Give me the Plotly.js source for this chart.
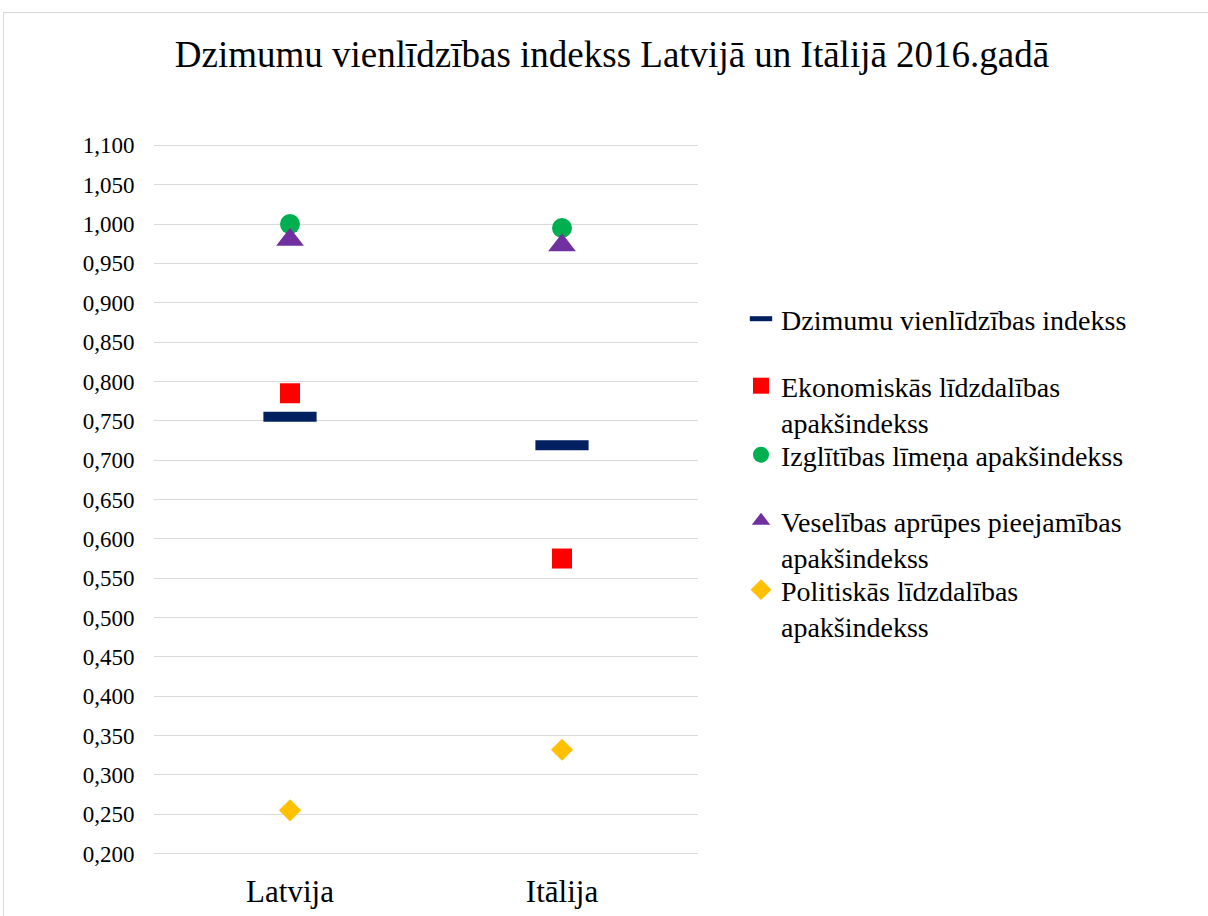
<!DOCTYPE html>
<html>
<head>
<meta charset="utf-8">
<script src="https://cdn.plot.ly/plotly-3.0.1.min.js"></script>
<style>
  html, body { margin: 0; padding: 0; background: #fff; overflow: hidden; width: 1208px; height: 916px; }
  #chart { position: absolute; left: 0; top: 0; width: 1208px; height: 916px; }
  #frame { position: absolute; left: 3px; top: 12px; width: 1300px; height: 1000px; border: 1px solid #d9d9d9; pointer-events: none; box-sizing: border-box; }
</style>
</head>
<body>
<div id="chart"></div>
<div id="frame"></div>
<script>
const categories = ["Latvija", "Itālija"];
const seriesNames = [
  "Dzimumu vienlīdzības indekss",
  "Ekonomiskās līdzdalības<br>apakšindekss",
  "Izglītības līmeņa apakšindekss",
  "Veselības aprūpes pieejamības<br>apakšindekss",
  "Politiskās līdzdalības<br>apakšindekss"
];
const ggi       = [0.755, 0.719];
const economic  = [0.785, 0.575];
const education = [1.000, 0.995];
const health    = [0.980, 0.973];
const political = [0.255, 0.332];
const yTickVals = [0.20,0.25,0.30,0.35,0.40,0.45,0.50,0.55,0.60,0.65,0.70,0.75,0.80,0.85,0.90,0.95,1.00,1.05,1.10];

const legendIds = ["legend", "legend2", "legend3", "legend4", "legend5"];
const legendLineY = [322, 389, 458, 524, 593];

const traces = [
  { y: ggi, marker: { symbol: "line-ew", size: 38, line: { width: 10, color: "#002060" }, color: "#002060" } },
  { y: economic, marker: { symbol: "square", size: 20, color: "#FF0000" } },
  { y: education, marker: { symbol: "circle", size: 20, color: "#00B050" } },
  { y: health, marker: { symbol: "triangle-up", size: 24, color: "#7030A0" } },
  { y: political, marker: { symbol: "diamond", size: 17, color: "#FFC000" } }
].map((t, i) => Object.assign({
  type: "scatter", mode: "markers", x: categories, name: seriesNames[i],
  legend: legendIds[i], hoverinfo: "x+y"
}, t));

const plotL = 154, plotR = 698, plotT = 143, plotB = 856;

const layout = {
  width: 1208, height: 916,
  paper_bgcolor: "#ffffff", plot_bgcolor: "#ffffff",
  separators: ", ",
  font: { family: "Liberation Serif, Times New Roman, serif", color: "#000000" },
  margin: { l: plotL, r: 1208 - plotR, t: plotT, b: 916 - plotB, pad: 0 },
  title: {
    text: "Dzimumu vienlīdzības indekss Latvijā un Itālijā 2016.gadā",
    font: { size: 37, family: "Liberation Serif, serif", color: "#000" },
    x: 612 / 1208, xref: "container", xanchor: "center",
    y: 1 - 54 / 916, yref: "container", yanchor: "middle"
  },
  xaxis: {
    type: "category", range: [-0.5, 1.5],
    showgrid: false, zeroline: false, showline: false,
    ticks: "outside", ticklen: 8, tickcolor: "rgba(0,0,0,0)",
    tickfont: { size: 31, family: "Liberation Serif, serif" }
  },
  yaxis: {
    range: [0.197, 1.103], tickvals: yTickVals, tickformat: ".3f",
    showgrid: true, gridcolor: "#d9d9d9", gridwidth: 1.3,
    zeroline: false, showline: false,
    ticks: "outside", ticklen: 14, tickcolor: "rgba(0,0,0,0)",
    tickfont: { size: 23, family: "Liberation Serif, serif" }
  },
  showlegend: true
};

legendIds.forEach((id, i) => {
  layout[id] = {
    x: (741 - plotL) / (plotR - plotL), xanchor: "left", xref: "paper",
    y: (plotB - (legendLineY[i] - 28)) / (plotB - plotT), yanchor: "top", yref: "paper",
    font: { size: 28, family: "Liberation Serif, serif", color: "#000" },
    valign: "top", bgcolor: "rgba(0,0,0,0)", borderwidth: 0,
    itemwidth: 30
  };
});

Plotly.newPlot("chart", traces, layout, { displayModeBar: false, responsive: false });
</script>
</body>
</html>
